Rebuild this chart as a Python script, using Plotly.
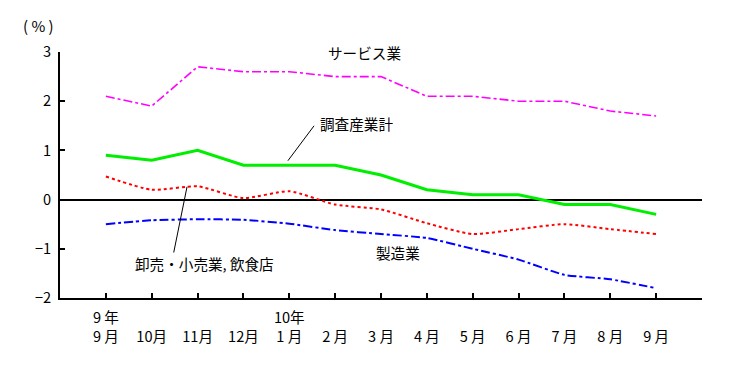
import plotly.graph_objects as go

# categories (months, Sep 1997 .. Sep 1998)
months = ["9 月", "10月", "11月", "12月", "1 月", "2 月", "3 月", "4 月",
          "5 月", "6 月", "7 月", "8 月", "9 月"]
years = ["9 年", "", "", "", "10年", "", "", "", "", "", "", "", ""]

total = [0.9, 0.8, 1.0, 0.7, 0.7, 0.7, 0.5, 0.2, 0.1, 0.1, -0.1, -0.1, -0.3]        # 調査産業計
services = [2.1, 1.9, 2.7, 2.6, 2.6, 2.5, 2.5, 2.1, 2.1, 2.0, 2.0, 1.8, 1.7]        # サービス業
wholesale = [0.47, 0.2, 0.27, 0.03, 0.17, -0.1, -0.2, -0.48, -0.7, -0.6, -0.5, -0.6, -0.7]  # 卸売・小売業, 飲食店
manufacturing = [-0.5, -0.42, -0.4, -0.41, -0.49, -0.62, -0.7, -0.78, -1.0, -1.22, -1.53, -1.62, -1.8]  # 製造業

y_ticks = [3, 2, 1, 0, -1, -2]

FONT = "Noto Sans CJK JP"
FS = 14.6
xs = list(range(len(months)))

fig = go.Figure()
fig.add_trace(go.Scatter(x=xs, y=services, mode="lines",
                         line=dict(color="#FF00FF", width=1.6, dash="dashdot")))
fig.add_trace(go.Scatter(x=xs, y=total, mode="lines",
                         line=dict(color="#00EE00", width=3)))
fig.add_trace(go.Scatter(x=xs, y=wholesale, mode="lines",
                         line=dict(color="#FF0000", width=2, dash="dot", shape="spline", smoothing=0.6)))
fig.add_trace(go.Scatter(x=xs, y=manufacturing, mode="lines",
                         line=dict(color="#0000FF", width=2, dash="dashdot", shape="spline", smoothing=0.5)))

ticktext = [(y if y else "\u00a0") + "<br>" + m for y, m in zip(years, months)] + [""]

fig.update_layout(
    width=732, height=368,
    margin=dict(l=52, r=38, t=44, b=78),
    paper_bgcolor="white", plot_bgcolor="white",
    showlegend=False,
    font=dict(family=FONT, size=FS, color="black"),
    xaxis=dict(range=[-1, 13], tickvals=list(range(14)), ticktext=ticktext,
               ticks="inside", ticklen=5, tickwidth=2, tickcolor="black",
               showline=True, linecolor="black", linewidth=2, showgrid=False,
               zeroline=False, tickangle=0, tickfont=dict(size=FS),
               ticklabelstandoff=5),
    yaxis=dict(range=[-2, 3], tickvals=y_ticks, ticktext=[str(v).replace("-", "−") for v in y_ticks],
               ticks="inside", ticklen=5, tickwidth=2, tickcolor="black",
               showline=True, linecolor="black", linewidth=2, showgrid=False,
               zeroline=True, zerolinecolor="black", zerolinewidth=2,
               tickfont=dict(size=FS), ticklabelstandoff=4),
)

# leader lines
fig.add_shape(type="line", xref="x", yref="y", x0=3.97, y0=0.79, x1=4.54, y1=1.5,
              line=dict(color="black", width=1))
fig.add_shape(type="line", xref="x", yref="y", x0=1.48, y0=-1.075, x1=1.77, y1=0.26,
              line=dict(color="black", width=1))

ann = dict(showarrow=False, font=dict(family=FONT, size=FS, color="black"))
fig.add_annotation(x=5.65, y=2.98, xref="x", yref="y", text="サービス業", **ann)
fig.add_annotation(x=5.46, y=1.55, xref="x", yref="y", text="調査産業計", **ann)
fig.add_annotation(x=2.15, y=-1.30, xref="x", yref="y", text="卸売・小売業, 飲食店", **ann)
fig.add_annotation(x=6.38, y=-1.075, xref="x", yref="y", text="製造業", **ann)
fig.add_annotation(x=-0.033, y=1.108, xref="paper", yref="paper", text="( % )",
                   xanchor="center", yanchor="middle",
                   showarrow=False, font=dict(family=FONT, size=15, color="black"))

fig.write_html("out.html")
